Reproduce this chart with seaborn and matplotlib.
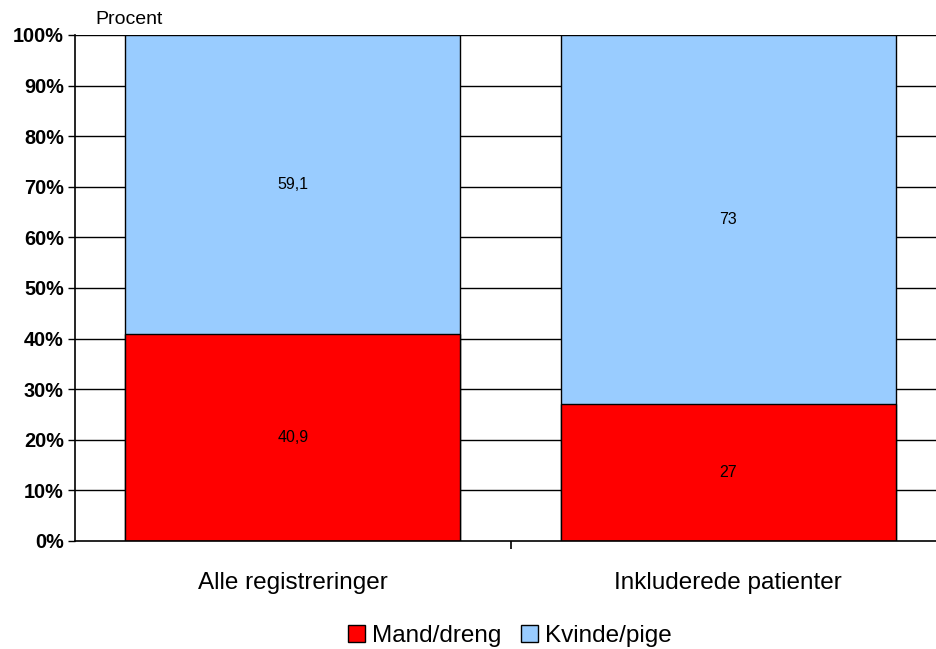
import pandas as pd
import seaborn as sns
import matplotlib.pyplot as plt
from matplotlib.patches import Patch

# data
kategorier = ["Alle registreringer", "Inkluderede patienter"]
mand = [40.9, 27.0]
kvinde = [59.1, 73.0]
mand_tekst = ["40,9", "27"]
kvinde_tekst = ["59,1", "73"]
y_ticks = [0, 10, 20, 30, 40, 50, 60, 70, 80, 90, 100]

rod = "#FF0000"
bla = "#99CCFF"

sns.set_style("white")
plt.rcParams["font.family"] = ["Liberation Sans", "DejaVu Sans"]
plt.rcParams["text.color"] = "black"
plt.rcParams["xtick.color"] = "black"
plt.rcParams["ytick.color"] = "black"
plt.rcParams["xtick.labelcolor"] = "black"
plt.rcParams["ytick.labelcolor"] = "black"

df = pd.DataFrame({"kategori": kategorier, "mand": mand, "kvinde": kvinde})
df["total"] = df["mand"] + df["kvinde"]

fig = plt.figure(figsize=(9.36, 6.49), dpi=100)
ax = fig.add_axes([75 / 936, 1 - 541 / 649, 871 / 936, 506 / 649])

# stacked: total (blue) first, red on top
sns.barplot(data=df, x="kategori", y="total", color=bla, width=0.77,
            edgecolor="black", linewidth=1, saturation=1, ax=ax, zorder=2)
sns.barplot(data=df, x="kategori", y="mand", color=rod, width=0.77,
            edgecolor="black", linewidth=1, saturation=1, ax=ax, zorder=3)

for i in range(len(kategorier)):
    ax.text(i, mand[i] / 2, mand_tekst[i], ha="center", va="center", fontsize=11.5,
            color="black", zorder=4)
    ax.text(i, mand[i] + kvinde[i] / 2, kvinde_tekst[i], ha="center", va="center",
            fontsize=11.5, color="black", zorder=4)

ax.set_xlim(-0.5, 1.5)
ax.set_ylim(0, 100)
ax.set_yticks(y_ticks)
ax.set_yticklabels([f"{t}%" for t in y_ticks], fontsize=14.3, fontweight="bold")
for t in y_ticks[1:]:
    ax.axhline(t, color="black", linewidth=1, zorder=1)

ax.set_xticks([0, 1])
ax.set_xticklabels(kategorier, fontsize=17.5)
ax.tick_params(axis="x", which="major", length=0, pad=22)
ax.set_xticks([0.5], minor=True)
ax.tick_params(axis="x", which="minor", bottom=True, length=6, width=1.2,
               color="black", direction="out")
ax.tick_params(axis="y", left=True, length=5, width=1, color="black", direction="out", pad=3)

ax.set_xlabel("")
ax.set_ylabel("")
for s in ["top", "right"]:
    ax.spines[s].set_visible(False)
for s in ["left", "bottom"]:
    ax.spines[s].set_color("black")
    ax.spines[s].set_linewidth(1.2)
    ax.spines[s].set_zorder(5)

fig.text(129 / 936, 1 - 19 / 649, "Procent", ha="center", va="center", fontsize=14)

handles = [Patch(facecolor=rod, edgecolor="black", label="Mand/dreng"),
           Patch(facecolor=bla, edgecolor="black", label="Kvinde/pige")]
fig.legend(handles=handles, loc="center", bbox_to_anchor=(510 / 936, 1 - 636 / 649),
           ncol=2, frameon=False, fontsize=17.5, handlelength=0.7, handleheight=0.7,
           handletextpad=0.3, columnspacing=0.8)

fig.savefig("out.png", dpi=100)
